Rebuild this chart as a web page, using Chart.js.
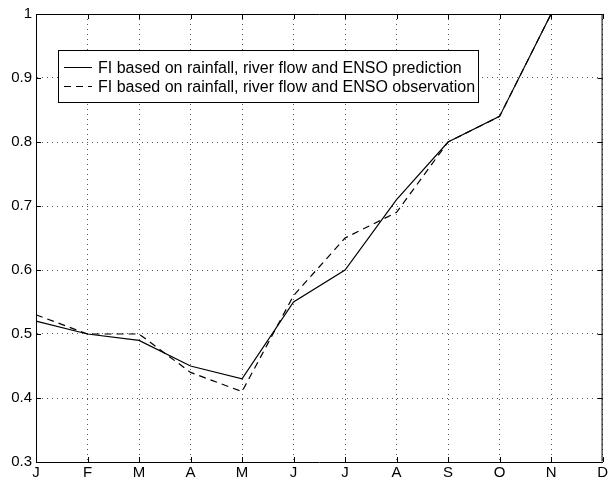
<!DOCTYPE html>
<html>
<head>
<meta charset="utf-8">
<script src="https://cdn.jsdelivr.net/npm/chart.js@4/dist/chart.umd.min.js"></script>
<style>
html,body{margin:0;padding:0;background:#fff;}
#wrap{width:610px;height:480px;}
</style>
</head>
<body>
<div id="wrap"><canvas id="c" width="610" height="480"></canvas></div>
<script>
const months = ['J','F','M','A','M','J','J','A','S','O','N','D'];
const prediction = [0.52, 0.50, 0.49, 0.45, 0.43, 0.55, 0.60, 0.71, 0.80, 0.84, 1.00, null];
const observation = [0.53, 0.50, 0.50, 0.44, 0.41, 0.56, 0.65, 0.69, 0.80, 0.84, 1.00, null];
const seriesLabels = ['FI based on rainfall, river flow and ENSO prediction',
                      'FI based on rainfall, river flow and ENSO observation'];
const yTicks = [0.3, 0.4, 0.5, 0.6, 0.7, 0.8, 0.9, 1];

const FONT = '"Liberation Sans", Arial, Helvetica, sans-serif';

const boxPlugin = {
  id: 'boxPlugin',
  afterDraw(chart) {
    const ctx = chart.ctx;
    const a = chart.chartArea;
    const xs = chart.scales.x, ys = chart.scales.y;
    ctx.save();
    ctx.strokeStyle = '#000';
    ctx.lineWidth = 1;
    ctx.setLineDash([]);
    ctx.beginPath();
    ctx.moveTo(a.left + 0.5, a.top + 0.5);
    ctx.lineTo(a.right - 0.5, a.top + 0.5);
    ctx.lineTo(a.right - 0.5, a.bottom - 0.5);
    ctx.stroke();
    const tl = 5;
    ctx.beginPath();
    for (let i = 0; i < months.length; i++) {
      const x = Math.round(xs.getPixelForValue(i)) + 0.5;
      ctx.moveTo(x, a.bottom); ctx.lineTo(x, a.bottom - tl);
      ctx.moveTo(x, a.top); ctx.lineTo(x, a.top + tl);
    }
    yTicks.forEach(v => {
      const y = Math.round(ys.getPixelForValue(v)) + 0.5;
      ctx.moveTo(a.left, y); ctx.lineTo(a.left + tl, y);
      ctx.moveTo(a.right, y); ctx.lineTo(a.right - tl, y);
    });
    ctx.stroke();
    const lx = a.left + 22, ly = a.top + 36, lw = 420, lh = 52;
    ctx.fillStyle = '#fff';
    ctx.fillRect(lx, ly, lw, lh);
    ctx.strokeRect(lx + 0.5, ly + 0.5, lw, lh);
    ctx.font = '16px ' + FONT;
    ctx.textBaseline = 'middle';
    ctx.fillStyle = '#000';
    chart.data.datasets.forEach((ds, i) => {
      const yy = ly + 17 + i * 19 + 0.5;
      ctx.setLineDash(ds.borderDash || []);
      ctx.beginPath();
      ctx.moveTo(lx + 6, yy);
      ctx.lineTo(lx + 34, yy);
      ctx.stroke();
      ctx.setLineDash([]);
      ctx.fillText(ds.label, lx + 40, yy + 1);
    });
    ctx.restore();
  }
};

new Chart(document.getElementById('c'), {
  type: 'line',
  data: {
    labels: months,
    datasets: [
      { label: seriesLabels[0], data: prediction, borderColor: '#000', borderWidth: 1.2,
        pointRadius: 0, tension: 0, fill: false },
      { label: seriesLabels[1], data: observation, borderColor: '#000', borderWidth: 1.2,
        borderDash: [7, 5], pointRadius: 0, tension: 0, fill: false }
    ]
  },
  options: {
    responsive: false,
    animation: false,
    layout: { padding: { top: 14, right: 4, left: 0, bottom: 0 } },
    plugins: { legend: { display: false }, tooltip: { enabled: false } },
    scales: {
      x: {
        type: 'category',
        offset: false,
        grid: { color: '#555', drawTicks: false, lineWidth: 1 },
        border: { display: true, color: '#000', dash: [1, 4] },
        ticks: { color: '#000', font: { family: FONT, size: 15 }, padding: 2, maxRotation: 0, autoSkip: false },
        afterFit(s) { s.height = 18; }
      },
      y: {
        min: 0.3, max: 1,
        grid: { color: '#555', drawTicks: false, lineWidth: 1 },
        border: { display: true, color: '#000', dash: [1, 4] },
        afterBuildTicks(s) { s.ticks = yTicks.map(v => ({ value: v })); },
        ticks: { color: '#000', font: { family: FONT, size: 15 }, padding: 4,
                 callback: v => (v === 1 ? '1' : v.toFixed(1)) },
        afterFit(s) { s.width = 36; }
      }
    }
  },
  plugins: [boxPlugin]
});
</script>
</body>
</html>
